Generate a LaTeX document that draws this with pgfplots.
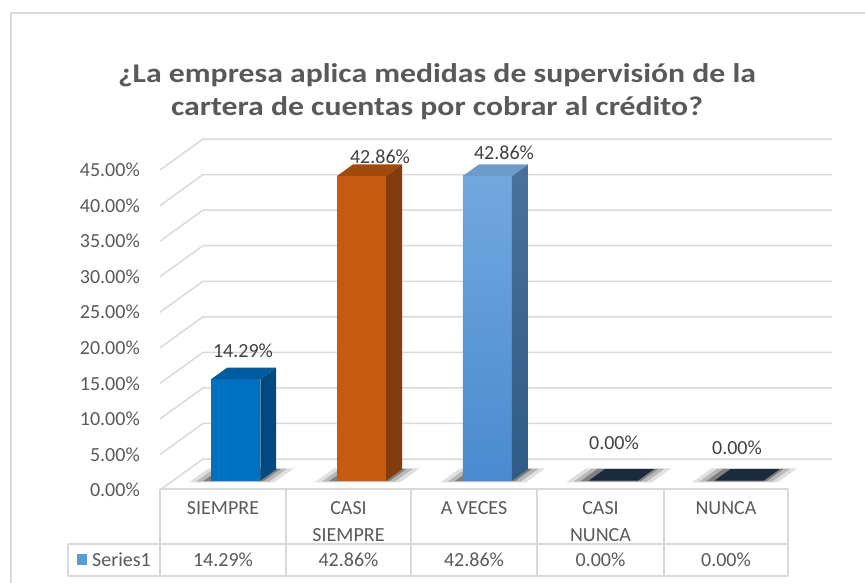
\documentclass[border=0pt]{standalone}
\usepackage{pgfplots}
\pgfplotsset{compat=1.18}
\usepackage{fontspec}
\setmainfont{Carlito}
\definecolor{gridc}{HTML}{D9D9D9}
\definecolor{txt}{HTML}{595959}
\definecolor{lbl}{HTML}{404040}
\definecolor{c1f}{HTML}{0070C0}\definecolor{c1s}{HTML}{004A80}\definecolor{c1t}{HTML}{005C9E}
\definecolor{c2f}{HTML}{C55A11}\definecolor{c2s}{HTML}{843C0C}\definecolor{c2t}{HTML}{A3490E}
\definecolor{c3t}{HTML}{6E9CC9}\definecolor{c3b}{HTML}{4A8ACF}\definecolor{c3u}{HTML}{72A8DE}
\definecolor{c3s}{HTML}{2F5B86}\definecolor{c3st}{HTML}{4A719B}
\definecolor{c0}{HTML}{1B2A3C}
\definecolor{keyc}{HTML}{5B9BD5}
\newcommand{\threedbar}[5]{%
  \pgfmathsetmacro\xl{#1-0.195}\pgfmathsetmacro\xr{#1+0.195}%
  \addplot3[#3, draw=none] coordinates {(\xl,0.3,0) (\xr,0.3,0) (\xr,0.3,#2) (\xl,0.3,#2)};
  \addplot3[#4, draw=none] coordinates {(\xr,0.3,0) (\xr,0.67,0) (\xr,0.67,#2) (\xr,0.3,#2)};
  \addplot3[#5, draw=none] coordinates {(\xl,0.3,#2) (\xr,0.3,#2) (\xr,0.67,#2) (\xl,0.67,#2)};
}
\newcommand{\shadow}[1]{%
  \pgfmathsetmacro\sa{#1-0.195-0.16}\pgfmathsetmacro\sb{#1+0.195+0.13}%
  \addplot3[fill=black, fill opacity=0.12, draw=none] coordinates {(\sa,0.25,0) (\sb,0.25,0) (\sb,0.70,0) (\sa,0.70,0)};
  \pgfmathsetmacro\sa{#1-0.195-0.11}\pgfmathsetmacro\sb{#1+0.195+0.08}%
  \addplot3[fill=black, fill opacity=0.18, draw=none] coordinates {(\sa,0.27,0) (\sb,0.27,0) (\sb,0.69,0) (\sa,0.69,0)};
  \pgfmathsetmacro\sa{#1-0.195-0.06}\pgfmathsetmacro\sb{#1+0.195+0.03}%
  \addplot3[fill=black, fill opacity=0.3, draw=none] coordinates {(\sa,0.29,0) (\sb,0.29,0) (\sb,0.68,0) (\sa,0.68,0)};
}
\begin{document}
\begin{tikzpicture}[x=1pt,y=1pt]
\useasboundingbox (0,0) rectangle (865,582);
% chart border
\draw[gridc, line width=2pt] (11,-5) -- (11,569) -- (870,569);
% title
\node[txt, font=\fontsize{27}{33}\selectfont\bfseries, xscale=1.175] at (437,507) {¿La empresa aplica medidas de supervisión de la};
\node[txt, font=\fontsize{27}{33}\selectfont\bfseries, xscale=1.175] at (437,474) {cartera de cuentas por cobrar al crédito?};
\begin{axis}[
  at={(222.9pt,92pt)}, anchor=origin,
  x={(125.8pt,0pt)}, y={(43pt,31pt)}, z={(0pt,7.11pt)},
  xmin=-0.5, xmax=4.5, ymin=0, ymax=1, zmin=0, zmax=45,
  hide axis, clip=false,
  /pgf/number format/assume math mode=true,
]
\pgfplotsinvokeforeach{0,5,...,45}{%
  \addplot3[gridc, line width=1.5pt, mark=none] coordinates {(-0.5,0,#1) (-0.5,1,#1) (4.5,1,#1)};
}
\shadow{0}\shadow{1}\shadow{2}\shadow{3}\shadow{4}
\threedbar{0}{14.29}{fill=c1f}{fill=c1s}{fill=c1t}
\threedbar{1}{42.86}{fill=c2f}{fill=c2s}{fill=c2t}
\threedbar{2}{42.86}{top color=c3u, bottom color=c3b}{top color=c3st, bottom color=c3s}{fill=c3t}
\threedbar{3}{0}{fill=c0}{fill=c0}{fill=c0}
\threedbar{4}{0}{fill=c0}{fill=c0}{fill=c0}
\pgfplotsinvokeforeach{0,5,...,45}{%
  \node[txt, anchor=east, font=\fontsize{20}{24}\selectfont, inner sep=0pt] at (axis cs:-0.5,0,#1) [xshift=-20pt] {\pgfmathprintnumber[fixed, fixed zerofill, precision=2, assume math mode=true]{#1}\%};
}
\end{axis}
% data labels
\begin{scope}[every node/.style={lbl, font=\fontsize{20}{24}\selectfont, inner sep=0pt}]
\node at (243,231) {14.29\%};
\node at (380,425) {42.86\%};
\node at (504,429) {42.86\%};
\node at (614,139) {0.00\%};
\node at (737,134) {0.00\%};
\end{scope}
% data table
\begin{scope}[gridc, line width=1.5pt]
\draw (160,93) -- (788,93);
\draw (68,38) -- (788,38);
\draw (68,6) -- (788,6);
\draw (68,38) -- (68,6);
\foreach \xx in {160,286,411,537,664,788} \draw (\xx,93) -- (\xx,6);
\end{scope}
\begin{scope}[every node/.style={txt, font=\fontsize{20}{24}\selectfont, inner sep=0pt}]
\node at (223,74) {SIEMPRE};
\node at (348.5,74) {CASI};
\node at (348.5,47) {SIEMPRE};
\node at (474,74) {A VECES};
\node at (600.5,74) {CASI};
\node at (600.5,47) {NUNCA};
\node at (726,74) {NUNCA};
\node at (223,22) {14.29\%};
\node at (348.5,22) {42.86\%};
\node at (474,22) {42.86\%};
\node at (600.5,22) {0.00\%};
\node at (726,22) {0.00\%};
\node[anchor=west] at (92,22) {Series1};
\end{scope}
\fill[keyc] (77,17) rectangle (87,28);
\end{tikzpicture}
\end{document}
